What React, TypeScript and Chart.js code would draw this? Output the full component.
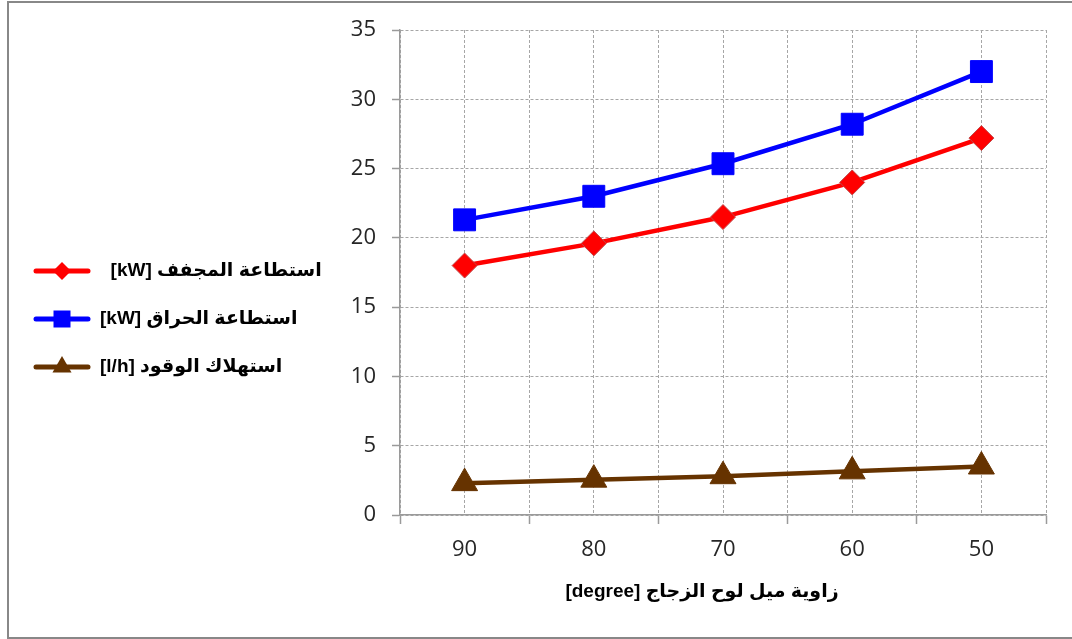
import React, { useEffect, useRef } from 'react';
import { Chart, registerables } from 'chart.js';

Chart.register(...registerables);

// ---- data ----
const categories = ['90', '80', '70', '60', '50'];
const dryerPower = [18.0, 19.6, 21.5, 24.0, 27.2];
const burnerPower = [21.3, 23.0, 25.35, 28.2, 32.0];
const fuelConsumption = [2.3, 2.55, 2.8, 3.15, 3.5];
const seriesLabels = ['استطاعة المجفف [kW]  ', 'استطاعة الحراق [kW]', 'استهلاك الوقود [l/h]'];
const xTitle = 'زاوية ميل لوح الزجاج [degree]';
const yMin = 0;
const yMax = 35;
const yStep = 5;

const toPoints = (vals: number[]) => vals.map((v, i) => ({ x: i, y: v }));

const LEGEND_Y = [271, 319, 367];
const LABEL_FONT = "bold 19px 'Liberation Sans', 'DejaVu Sans', sans-serif";

const sideLegend = {
  id: 'sideLegend',
  afterDraw(chart: any) {
    const ctx: CanvasRenderingContext2D = chart.ctx;
    chart.data.datasets.forEach((ds: any, i: number) => {
      const y = LEGEND_Y[i];
      ctx.save();
      ctx.strokeStyle = ds.borderColor;
      ctx.lineWidth = 5;
      ctx.lineCap = 'round';
      ctx.beginPath();
      ctx.moveTo(36, y);
      ctx.lineTo(88, y);
      ctx.stroke();
      const cx = 62;
      ctx.fillStyle = ds.pointBackgroundColor;
      ctx.beginPath();
      if (ds.pointStyle === 'rectRot') {
        const r = 9;
        ctx.moveTo(cx, y - r);
        ctx.lineTo(cx + r, y);
        ctx.lineTo(cx, y + r);
        ctx.lineTo(cx - r, y);
        ctx.closePath();
      } else if (ds.pointStyle === 'rect') {
        ctx.rect(cx - 8.5, y - 8.5, 17, 17);
      } else {
        const r = 11;
        ctx.moveTo(cx, y - r);
        ctx.lineTo(cx + r * 0.866, y + r * 0.5);
        ctx.lineTo(cx - r * 0.866, y + r * 0.5);
        ctx.closePath();
      }
      ctx.fill();
      ctx.direction = 'rtl';
      ctx.textAlign = 'left';
      ctx.textBaseline = 'middle';
      ctx.font = LABEL_FONT;
      ctx.fillStyle = '#000000';
      ctx.fillText(ds.label, 100, y);
      ctx.restore();
    });

    // x axis title
    ctx.save();
    ctx.direction = 'rtl';
    ctx.textAlign = 'center';
    ctx.textBaseline = 'middle';
    ctx.font = LABEL_FONT;
    ctx.fillStyle = '#000000';
    ctx.fillText(xTitle, 702, 592);
    ctx.restore();
  },
};

export default function App() {
  const canvasRef = useRef<HTMLCanvasElement | null>(null);

  useEffect(() => {
    document.body.style.margin = '0';
    document.body.style.overflow = 'hidden';
    const canvas = canvasRef.current;
    if (!canvas) return;
    Chart.defaults.font.family = "'Open Sans', 'DejaVu Sans', sans-serif";

    const gridColor = '#a6a6a6';
    const axisColor = '#9a9a9a';

    const chart = new Chart(canvas, {
      type: 'line',
      data: {
        datasets: [
          {
            label: seriesLabels[0],
            data: toPoints(dryerPower),
            borderColor: '#ff0000',
            backgroundColor: '#ff0000',
            borderWidth: 4.5,
            pointStyle: 'rectRot',
            pointRadius: 12.5,
            pointBackgroundColor: '#ff0000',
            pointBorderColor: '#c04848',
            pointBorderWidth: 1,
          },
          {
            label: seriesLabels[1],
            data: toPoints(burnerPower),
            borderColor: '#0000ff',
            backgroundColor: '#0000ff',
            borderWidth: 4.5,
            pointStyle: 'rect',
            pointRadius: 15.5,
            pointBackgroundColor: '#0000ff',
            pointBorderColor: '#0000ff',
            pointBorderWidth: 1,
          },
          {
            label: seriesLabels[2],
            data: toPoints(fuelConsumption),
            borderColor: '#663300',
            backgroundColor: '#663300',
            borderWidth: 4.5,
            pointStyle: 'triangle',
            pointRadius: 15,
            pointBackgroundColor: '#663300',
            pointBorderColor: '#663300',
            pointBorderWidth: 1,
          },
        ] as any,
      },
      options: {
        responsive: false,
        animation: false,
        layout: { padding: { top: 30, right: 26, bottom: 0, left: 0 } },
        plugins: {
          legend: { display: false },
          tooltip: { enabled: false },
        },
        scales: {
          x: {
            type: 'linear',
            min: -0.5,
            max: categories.length - 0.5,
            afterFit: (s: any) => {
              s.height = 124;
            },
            ticks: {
              stepSize: 0.5,
              autoSkip: false,
              maxRotation: 0,
              minRotation: 0,
              padding: 13,
              color: '#262626',
              font: { size: 22 },
              callback: (v: any) => (Number.isInteger(v) ? categories[v] : ''),
            },
            grid: {
              color: gridColor,
              lineWidth: 1,
              tickLength: 9,
              tickWidth: 1.5,
              tickColor: (c: any) =>
                c.tick && Number.isInteger(c.tick.value) ? 'rgba(0,0,0,0)' : axisColor,
            },
            border: { color: axisColor, width: 1.5, dash: [3, 2] },
          },
          y: {
            min: yMin,
            max: yMax,
            afterFit: (s: any) => {
              s.width = 400;
            },
            ticks: {
              stepSize: yStep,
              padding: 16,
              color: '#262626',
              font: { size: 22 },
            },
            grid: {
              color: gridColor,
              lineWidth: 1,
              tickLength: 8,
              tickWidth: 1.5,
              tickColor: axisColor,
            },
            border: { color: axisColor, width: 1.5, dash: [3, 2] },
          },
        },
      } as any,
      plugins: [sideLegend],
    });

    return () => {
      chart.destroy();
    };
  }, []);

  return (
    <div style={{ position: 'relative', width: 1072, height: 639, overflow: 'hidden', background: '#ffffff' }}>
      <canvas ref={canvasRef} width={1072} height={639} style={{ display: 'block', direction: 'rtl' }} />
      <div
        style={{
          position: 'absolute',
          left: 7,
          top: 1,
          width: 1100,
          height: 638,
          boxSizing: 'border-box',
          border: '2px solid #888888',
          pointerEvents: 'none',
        }}
      />
    </div>
  );
}
